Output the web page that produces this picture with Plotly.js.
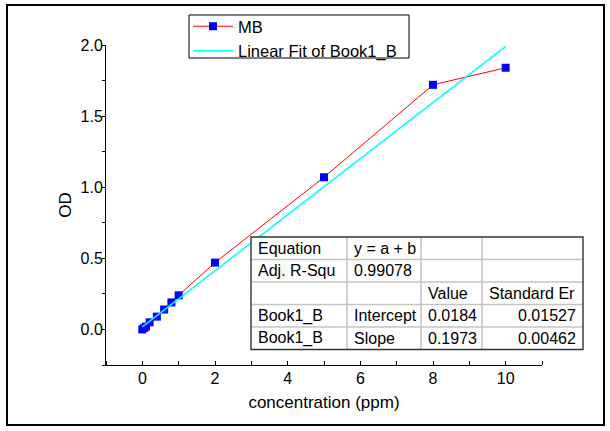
<!DOCTYPE html>
<html>
<head>
<meta charset="utf-8">
<script src="https://cdn.plot.ly/plotly-3.0.1.min.js"></script>
<style>
  html, body { margin: 0; padding: 0; background: #fff; }
  #chart { width: 610px; height: 431px; }
</style>
</head>
<body>
<div id="chart"></div>
<script>
// ---- data ----
const concentration = [0, 0.05, 0.1, 0.2, 0.4, 0.6, 0.8, 1, 2, 5, 8, 10];
const od = [0.0, 0.01, 0.02, 0.05, 0.09, 0.14, 0.19, 0.24, 0.47, 1.07, 1.72, 1.84];
const fitX = [0, 10];
const fitY = [0.018, 1.99];
const seriesNames = ["MB", "Linear Fit of Book1_B"];
const xTicks = [0, 2, 4, 6, 8, 10];
const yTicks = [0.0, 0.5, 1.0, 1.5, 2.0];
const yTickText = ["0.0", "0.5", "1.0", "1.5", "2.0"];
const tableRows = [
  ["Equation", "y = a + b", "", ""],
  ["Adj. R-Squ", "0.99078", "", ""],
  ["", "", "Value", "Standard Er"],
  ["Book1_B", "Intercept", "0.0184", "0.01527"],
  ["Book1_B", "Slope", "0.1973", "0.00462"]
];

// ---- layout geometry (pixels) ----
const W = 610, H = 431;
const L = 106, R = 68, T = 45, B = 66;
const PW = W - L - R, PH = H - T - B;
const px = x => (x - L) / PW;
const py = y => (H - B - y) / PH;

const colEdges = [251, 347, 421, 482, 583];
const rowEdges = [237, 259.5, 282, 304.5, 327, 349.5];
const FONT = "Liberation Sans, Arial, sans-serif";

const shapes = [];
const annotations = [];

// outer frame
shapes.push({type: "rect", xref: "paper", yref: "paper", layer: "above",
  x0: px(7), x1: px(604), y0: py(5), y1: py(425),
  line: {color: "#000", width: 2}, fillcolor: "rgba(0,0,0,0)"});

// legend frame
shapes.push({type: "rect", xref: "paper", yref: "paper", layer: "above",
  x0: px(189), x1: px(409), y0: py(15), y1: py(58),
  line: {color: "#000", width: 1}, fillcolor: "rgba(0,0,0,0)"});

// table background
shapes.push({type: "rect", xref: "paper", yref: "paper", layer: "above",
  x0: px(colEdges[0]), x1: px(colEdges[4]), y0: py(rowEdges[0]), y1: py(rowEdges[5]),
  line: {width: 0}, fillcolor: "#fff"});
// inner grid lines
for (let i = 1; i < colEdges.length - 1; i++) {
  shapes.push({type: "line", xref: "paper", yref: "paper", layer: "above",
    x0: px(colEdges[i]), x1: px(colEdges[i]), y0: py(rowEdges[0]), y1: py(rowEdges[5]),
    line: {color: "#c4c4c4", width: 1.6}});
}
for (let j = 1; j < rowEdges.length - 1; j++) {
  shapes.push({type: "line", xref: "paper", yref: "paper", layer: "above",
    x0: px(colEdges[0]), x1: px(colEdges[4]), y0: py(rowEdges[j]), y1: py(rowEdges[j]),
    line: {color: "#c4c4c4", width: 1.6}});
}
// table border
shapes.push({type: "rect", xref: "paper", yref: "paper", layer: "above",
  x0: px(colEdges[0]), x1: px(colEdges[4]), y0: py(rowEdges[0]), y1: py(rowEdges[5]),
  line: {color: "#333", width: 1.4}, fillcolor: "rgba(0,0,0,0)"});

// table text
tableRows.forEach((row, r) => {
  const yc = (rowEdges[r] + rowEdges[r + 1]) / 2;
  row.forEach((txt, c) => {
    if (!txt) return;
    const rightAlign = (c === 3 && r > 2);
    annotations.push({
      xref: "paper", yref: "paper", showarrow: false,
      x: rightAlign ? px(colEdges[c + 1] - 5) : px(colEdges[c] + 5),
      xanchor: rightAlign ? "right" : "left",
      y: py(yc), yanchor: "middle",
      text: txt,
      font: {family: FONT, size: 16, color: "#000"}
    });
  });
});

const traces = [
  {
    x: concentration, y: od, name: seriesNames[0],
    type: "scatter", mode: "lines+markers",
    line: {color: "#ff0000", width: 1},
    marker: {symbol: "square", size: 8, color: "#0000ff"}
  },
  {
    x: fitX, y: fitY, name: seriesNames[1],
    type: "scatter", mode: "lines",
    line: {color: "#00ffff", width: 1.5}
  }
];

const layout = {
  width: W, height: H,
  margin: {l: L, r: R, t: T, b: B, pad: 0, autoexpand: false},
  paper_bgcolor: "#fff", plot_bgcolor: "#fff",
  font: {family: FONT, size: 16, color: "#000"},
  showlegend: true,
  legend: {
    x: px(188), xanchor: "left", y: py(9), yanchor: "top",
    borderwidth: 0, bgcolor: "rgba(0,0,0,0)",
    font: {family: FONT, size: 16.5, color: "#000"},
    itemwidth: 40, tracegroupgap: 0
  },
  xaxis: {
    range: [-1, 11], tickmode: "array", tickvals: xTicks, ticktext: xTicks.map(String),
    showline: true, linecolor: "#000", linewidth: 1,
    showgrid: false, zeroline: false,
    ticks: "", tickcolor: "#000",
    minor: {dtick: 1, ticks: "inside", ticklen: 4, tickcolor: "#000", showgrid: false},
    tickfont: {family: FONT, size: 16, color: "#000"},
    ticklabelstandoff: -1,
    title: {text: "concentration (ppm)", font: {family: FONT, size: 17, color: "#000"}, standoff: 9}
  },
  yaxis: {
    range: [-0.25, 2.0], tickmode: "array", tickvals: yTicks, ticktext: yTickText,
    showline: true, linecolor: "#000", linewidth: 1,
    showgrid: false, zeroline: false,
    ticks: "", tickcolor: "#000",
    minor: {dtick: 0.25, ticks: "outside", ticklen: 3, tickcolor: "#000", showgrid: false},
    tickfont: {family: FONT, size: 16, color: "#000"},
    ticklabelstandoff: -1,
    title: {text: "OD", font: {family: FONT, size: 17, color: "#000"}, standoff: 4}
  },
  shapes: shapes,
  annotations: annotations
};

Plotly.newPlot("chart", traces, layout, {displayModeBar: false, staticPlot: true});
</script>
</body>
</html>
